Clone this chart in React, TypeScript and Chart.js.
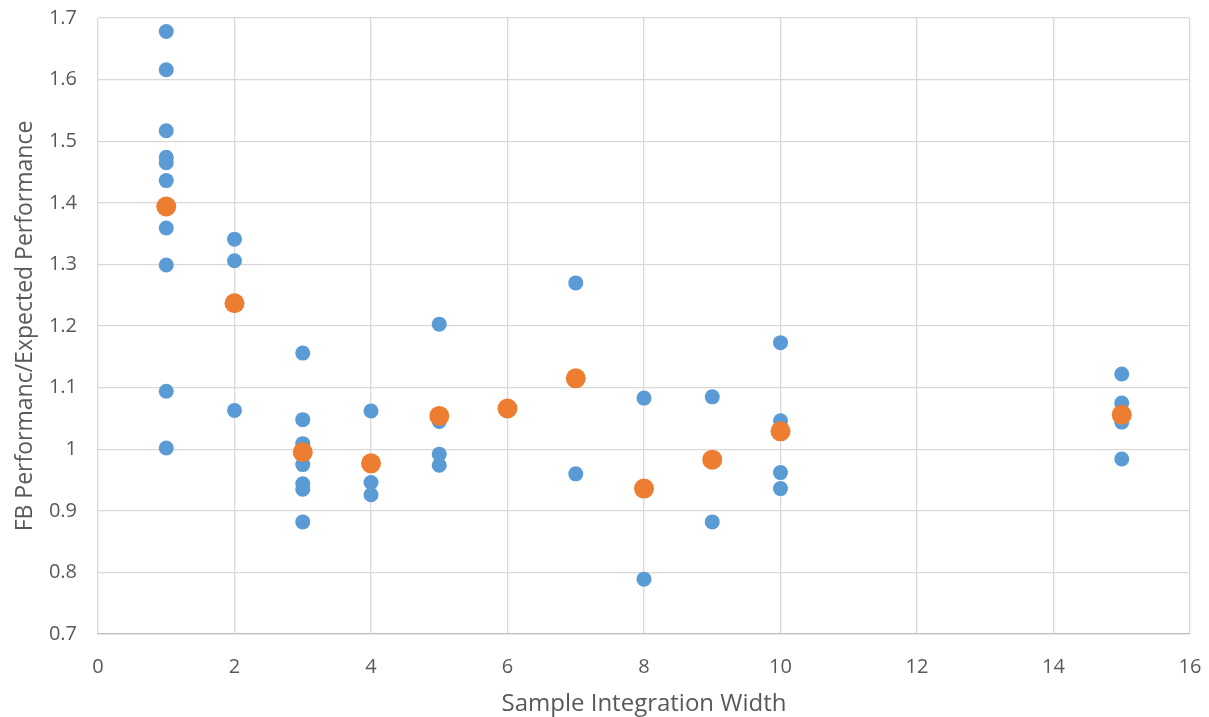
import React, { useEffect, useRef } from "react";
import { Chart, registerables } from "chart.js";

Chart.register(...registerables);

const blueX = [1,1,1,1,1,1,1,1,1,1, 2,2,2, 3,3,3,3,3,3,3, 4,4,4, 5,5,5,5, 6, 7,7, 8,8, 9,9, 10,10,10,10, 15,15,15,15];
const blueY = [1.678,1.616,1.517,1.474,1.465,1.436,1.359,1.299,1.094,1.002, 1.341,1.306,1.063, 1.156,1.048,1.009,0.975,0.944,0.935,0.882, 1.062,0.946,0.926, 1.203,1.045,0.992,0.974, 1.066, 1.270,0.960, 1.083,0.789, 1.085,0.882, 1.173,1.046,0.962,0.936, 1.122,1.075,1.044,0.984];
const avgX = [1, 2, 3, 4, 5, 6, 7, 8, 9, 10, 15];
const avgY = [1.394, 1.237, 0.995, 0.977, 1.054, 1.066, 1.115, 0.936, 0.983, 1.029, 1.056];

const xTitle = "Sample Integration Width";
const yTitle = "FB Performanc/Expected Performance";

const FONT = "'Open Sans', sans-serif";
const TEXT = "#595959";

export default function App() {
  const ref = useRef<HTMLCanvasElement>(null);
  useEffect(() => {
    document.body.style.margin = "0";
    const ctx = ref.current!;
    const chart = new Chart(ctx, {
      type: "scatter",
      data: {
        datasets: [
          {
            label: "Average",
            data: avgX.map((x, i) => ({ x, y: avgY[i] })),
            backgroundColor: "#ED7D31",
            borderColor: "#ED7D31",
            pointRadius: 10,
            borderWidth: 0,
            order: 0,
          },
          {
            label: "Samples",
            data: blueX.map((x, i) => ({ x, y: blueY[i] })),
            backgroundColor: "#5B9BD5",
            borderColor: "#5B9BD5",
            pointRadius: 7.5,
            borderWidth: 0,
            order: 1,
          },
        ],
      },
      options: {
        animation: false,
        responsive: false,
        maintainAspectRatio: false,
        layout: { padding: { left: 10, top: 18, right: 19, bottom: 0 } },
        plugins: { legend: { display: false }, tooltip: { enabled: false } },
        scales: {
          x: {
            type: "linear",
            min: 0,
            max: 16,
            ticks: { stepSize: 2, color: TEXT, font: { family: FONT, size: 20 }, padding: 21 },
            grid: { color: "#D9D9D9", lineWidth: 1.3, drawTicks: false },
            border: { color: "#BFBFBF", width: 1.3 },
            title: { display: true, text: xTitle, color: TEXT, font: { family: FONT, size: 24, lineHeight: 1.05 }, padding: { top: 2, bottom: 0 } },
            afterFit: (s: any) => {
              s.height = 83;
              s.paddingLeft = 0;
              s.paddingRight = 0;
            },
          },
          y: {
            type: "linear",
            min: 0.7,
            max: 1.7,
            ticks: {
              stepSize: 0.1,
              color: TEXT,
              font: { family: FONT, size: 20 },
              padding: 21,
              callback: (v: any) => String(Number(Number(v).toFixed(1))),
            },
            grid: { color: "#D9D9D9", lineWidth: 1.3, drawTicks: false },
            border: { display: false },
            title: { display: true, text: yTitle, color: TEXT, font: { family: FONT, size: 23 }, padding: { top: 2, bottom: 4 } },
            afterFit: (s: any) => {
              s.width = 88;
              s.paddingTop = 0;
              s.paddingBottom = 0;
            },
          },
        },
      },
    } as any);
    return () => chart.destroy();
  }, []);
  return <canvas ref={ref} width={1209} height={717} style={{ display: "block" }} />;
}
